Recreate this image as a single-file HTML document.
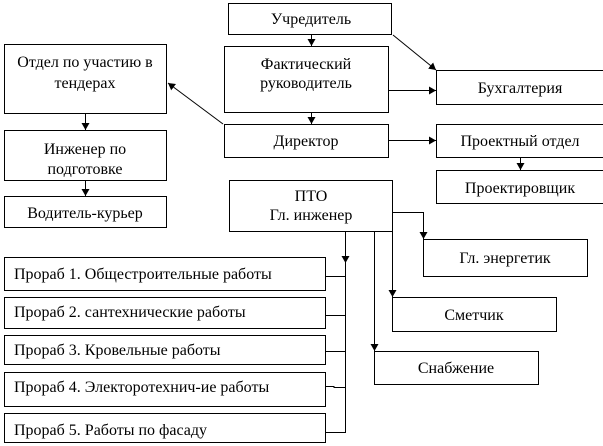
<!DOCTYPE html>
<html><head><meta charset="utf-8"><style>
html,body{margin:0;padding:0;background:#fff;}
svg{display:block;}
text{font-family:"Liberation Serif",serif;font-size:16px;fill:#000;}
</style></head><body>
<svg width="603" height="446" viewBox="0 0 603 446" xmlns="http://www.w3.org/2000/svg">
<defs><marker id="a" markerWidth="8" markerHeight="8" refX="7" refY="4" orient="auto" markerUnits="userSpaceOnUse"><path d="M0,0 L7,4 L0,8 z" fill="#000"/></marker></defs>
<g fill="#fff" stroke="#000" stroke-width="1">
<rect x="228.5" y="3.5" width="163" height="31"/>
<rect x="224.5" y="46.5" width="164" height="66"/>
<rect x="224.5" y="124.5" width="164" height="33"/>
<rect x="4.5" y="44.5" width="162" height="69"/>
<rect x="4.5" y="130.5" width="162" height="50"/>
<rect x="4.5" y="196.5" width="162" height="31"/>
<rect x="436.5" y="70.5" width="167" height="34"/>
<rect x="436.5" y="124.5" width="167" height="33"/>
<rect x="436.5" y="170.5" width="167" height="33"/>
<rect x="229.5" y="180.5" width="163" height="51"/>
<rect x="423.5" y="239.5" width="164" height="37"/>
<rect x="392.5" y="297.5" width="164" height="34"/>
<rect x="374.5" y="351.5" width="164" height="33"/>
<rect x="4.5" y="257.5" width="321" height="33"/>
<rect x="4.5" y="297.5" width="321" height="31"/>
<rect x="4.5" y="335.5" width="321" height="29"/>
<rect x="4.5" y="372.5" width="321" height="34"/>
<rect x="4.5" y="413.5" width="321" height="29"/>
</g>
<g stroke="#000" stroke-width="1" fill="none">
<line x1="311.5" y1="35" x2="311.5" y2="46" marker-end="url(#a)"/>
<line x1="311.5" y1="113" x2="311.5" y2="124" marker-end="url(#a)"/>
<line x1="393" y1="35" x2="436" y2="70" marker-end="url(#a)"/>
<line x1="389" y1="90.5" x2="436" y2="90.5" marker-end="url(#a)"/>
<line x1="389" y1="140.5" x2="436" y2="140.5" marker-end="url(#a)"/>
<line x1="223" y1="124" x2="168" y2="83" marker-end="url(#a)"/>
<line x1="85.5" y1="114" x2="85.5" y2="130" marker-end="url(#a)"/>
<line x1="85.5" y1="181" x2="85.5" y2="196" marker-end="url(#a)"/>
<line x1="520.5" y1="158" x2="520.5" y2="170" marker-end="url(#a)"/>
<polyline points="393,212.5 423.5,212.5 423.5,239" marker-end="url(#a)"/>
<line x1="392.5" y1="232" x2="392.5" y2="297" marker-end="url(#a)"/>
<line x1="374.5" y1="232" x2="374.5" y2="351" marker-end="url(#a)"/>
<line x1="345.5" y1="232" x2="345.5" y2="263" marker-end="url(#a)"/>
<polyline points="345.5,262 345.5,432.5 326,432.5"/>
<line x1="326" y1="276.5" x2="345.5" y2="276.5"/>
<line x1="326" y1="315.5" x2="345.5" y2="315.5"/>
<line x1="326" y1="351.5" x2="345.5" y2="351.5"/>
<polyline points="326,386.5 334,386.5 334,387.5 345.5,387.5"/>
</g>
<g text-anchor="middle">
<text x="311" y="24">Учредитель</text>
<text x="306" y="69">Фактический</text>
<text x="306" y="88">руководитель</text>
<text x="306" y="146">Директор</text>
<text x="85" y="67">Отдел по участию в</text>
<text x="85" y="88">тендерах</text>
<text x="85" y="154">Инженер по</text>
<text x="85" y="174">подготовке</text>
<text x="85" y="218">Водитель-курьер</text>
<text x="520" y="93">Бухгалтерия</text>
<text x="520" y="146">Проектный отдел</text>
<text x="520" y="193">Проектировщик</text>
<text x="311" y="201">ПТО</text>
<text x="311" y="220">Гл. инженер</text>
<text x="505" y="263">Гл. энергетик</text>
<text x="474" y="320">Сметчик</text>
<text x="456" y="373">Снабжение</text>
</g>
<g>
<text x="14" y="279">Прораб 1. Общестроительные работы</text>
<text x="14" y="317">Прораб 2. сантехнические работы</text>
<text x="14" y="355">Прораб 3. Кровельные работы</text>
<text x="14" y="392">Прораб 4. Электоротехнич-ие работы</text>
<text x="14" y="435">Прораб 5. Работы по фасаду</text>
</g>
</svg>
</body></html>
